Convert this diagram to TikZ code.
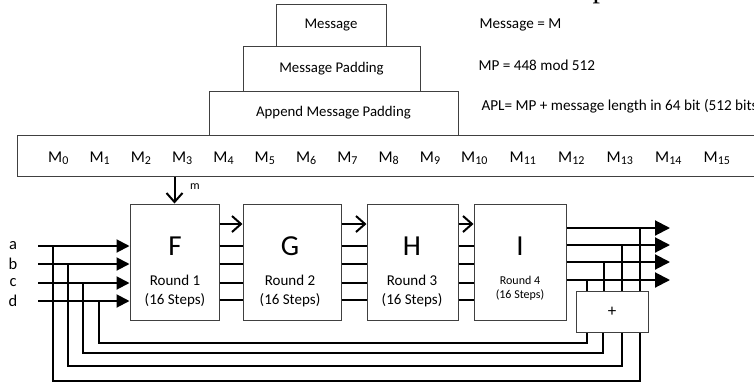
\documentclass[tikz,border=0pt]{standalone}
\usepackage{fontspec}
\setmainfont{Carlito}
\newfontfamily\serifpart{Liberation Serif}
\usetikzlibrary{arrows.meta}
\newcommand\Msub[1]{M\raisebox{-2.8pt}{\fontsize{12}{12}\selectfont #1}}
\begin{document}
\begin{tikzpicture}[x=1pt,y=-1pt,
  box/.style={draw=black!75, line width=1pt, inner sep=0pt},
  toptext/.style={font=\fontsize{14.8}{16}\selectfont},
  sidetext/.style={font=\fontsize{15.2}{17}\selectfont, anchor=west},
  mlabel/.style={font=\fontsize{16.5}{18}\selectfont, anchor=base west, inner sep=0pt},
  roundbox/.style={box, minimum height=116pt},
  bigletter/.style={font=\fontsize{29}{31}\selectfont},
  roundtext/.style={font=\fontsize{15}{18.5}\selectfont, align=center},
  roundsmall/.style={font=\fontsize{12}{14.5}\selectfont, align=center},
  wire/.style={line width=2pt},
  barb/.style={wire, -{Straight Barb[length=9pt,width=16pt,line width=2pt]}},
  fill arrow/.style={wire, -{Triangle[length=13pt,width=13pt]}},
  out arrow/.style={wire, -{Triangle[length=15pt,width=15pt]}},
  inlabel/.style={font=\fontsize{16.5}{18}\selectfont}
]
\useasboundingbox (0,0) rectangle (754,386);

% fragment of a title above the picture
\node[font=\serifpart\fontsize{30}{30}\selectfont, anchor=base, inner sep=0pt] (frag) at (600,-2.5) {p};

% padding stack
\node[box, toptext, minimum width=110pt, minimum height=42pt] (msg) at (331,25) {Message};
\node[box, toptext, minimum width=177pt, minimum height=45pt] (mp) at (331.5,68.5) {Message Padding};
\node[box, toptext, minimum width=249pt, minimum height=44pt] (apl) at (333.5,113) {Append Message Padding};

\node[sidetext] (t1) at (476,25) {Message = M};
\node[sidetext] (t2) at (475,65) {MP = 448 mod 512};
\node[sidetext] (t3) at (478,106) {APL= MP + message length in 64 bit (512 bits};

% message word row
\node[box, minimum width=763pt, minimum height=41pt] (mrow) at (398.5,155.5) {};
\foreach \i in {0,...,9} {
  \node[mlabel] (m\i) at ({48+41.3*\i},162) {\Msub{\i}};
}
\foreach \i in {10,...,15} {
  \node[mlabel] (m\i) at ({461+48.5*(\i-10)},162) {\Msub{\i}};
}

% round boxes
\node[roundbox, minimum width=89pt] (F) at (174.5,262) {};
\node[roundbox, minimum width=98pt] (G) at (292,262) {};
\node[roundbox, minimum width=91pt] (H) at (412.5,262) {};
\node[roundbox, minimum width=92pt] (I) at (520,262) {};

\node[bigletter] (Fl) at (175,246) {F};
\node[bigletter] (Gl) at (290,246) {G};
\node[bigletter] (Hl) at (412,246) {H};
\node[bigletter] (Il) at (520,246) {I};
\node[roundtext] (Ft) at (175,291) {Round 1\\(16 Steps)};
\node[roundtext] (Gt) at (290,291) {Round 2\\(16 Steps)};
\node[roundtext] (Ht) at (412,291) {Round 3\\(16 Steps)};
\node[roundsmall] (It) at (520,288.5) {Round 4\\(16 Steps)};

% m input
\draw[barb] (F.north |- mrow.south) -- (F.north);
\node[font=\fontsize{12}{14}\selectfont] (mlab) at (195,187) {m};

% connections between rounds
\foreach \a/\b in {F/G, G/H, H/I} {
  \draw[barb] (\a.east |- 0,224) -- (\b.west |- 0,224);
  \foreach \y in {246,264,283,300} {
    \draw[wire] (\a.east |- 0,\y) -- (\b.west |- 0,\y);
  }
}

% inputs a b c d
\foreach \n/\y in {a/246, b/264, c/283, d/301} {
  \node[inlabel] (l\n) at (13,\y) {\n};
  \coordinate (in\n) at (38,\y);
  \draw[fill arrow] (in\n) -- (F.west |- in\n);
}
\coordinate (fba) at (53,246);
\coordinate (fbb) at (68,264);
\coordinate (fbc) at (83,283);
\coordinate (fbd) at (99,301);

% adder
\node[box, minimum width=72pt, minimum height=41pt, font=\fontsize{17}{19}\selectfont] (plus) at (612,311.5) {+};

% feedback lines into the adder
\draw[wire] (fba) |- (640,381) -- (plus.south -| 640,0);
\draw[wire] (fbb) |- (622,366) -- (plus.south -| 622,0);
\draw[wire] (fbc) |- (603,353) -- (plus.south -| 603,0);
\draw[wire] (fbd) |- (587,343) -- (plus.south -| 587,0);

% outputs
\coordinate (oa) at (670,228);
\coordinate (ob) at (670,245);
\coordinate (oc) at (670,262);
\coordinate (od) at (670,280);
\foreach \o in {oa,ob,oc,od} {
  \draw[out arrow] (I.east |- \o) -- (\o);
}
\draw[wire] (plus.north -| 640,0) -- (640,228);
\draw[wire] (plus.north -| 622,0) -- (622,245);
\draw[wire] (plus.north -| 604,0) -- (604,262);
\draw[wire] (plus.north -| 587,0) -- (587,280);
\end{tikzpicture}
\end{document}
